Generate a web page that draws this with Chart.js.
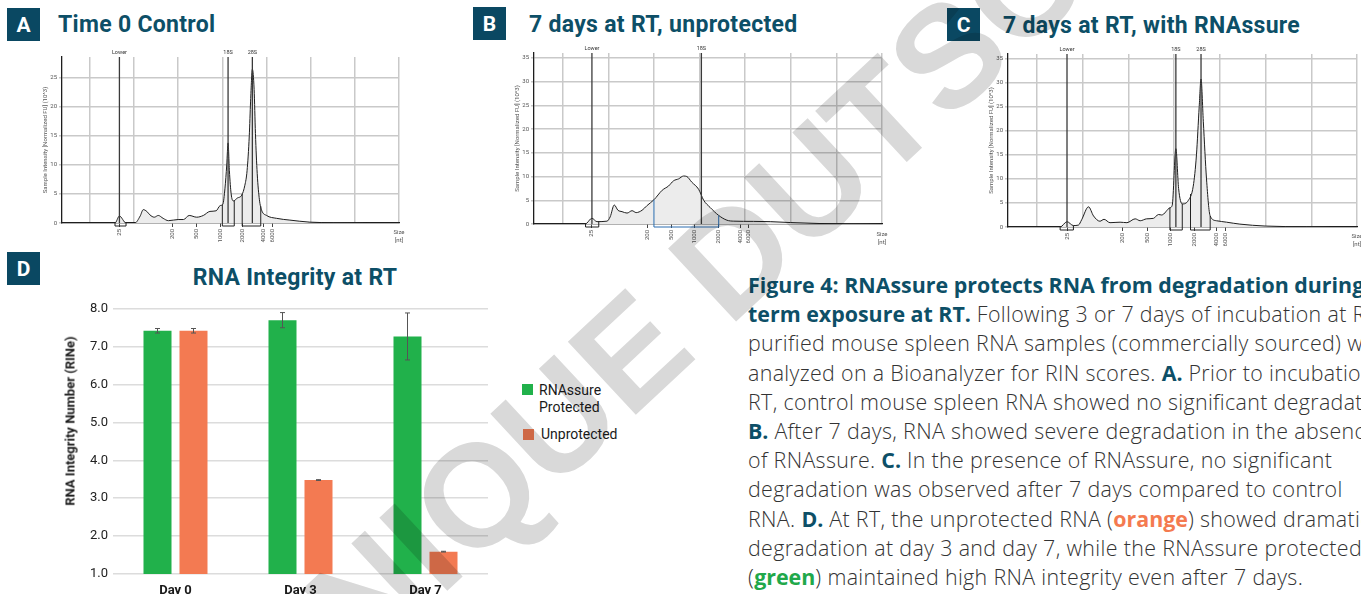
<!DOCTYPE html>
<html>
<head>
<meta charset="utf-8">
<script src="https://cdn.jsdelivr.net/npm/chart.js@4.4.1/dist/chart.umd.min.js"></script>
<style>
html, body { margin: 0; padding: 0; background: #fff; }
body { width: 1361px; height: 594px; position: relative; overflow: hidden; font-family: Roboto, sans-serif; }
canvas { position: absolute; }
.badge { position: absolute; width: 33px; height: 33px; background: #0a4862; color: #fff;
  font: 700 21px Roboto, sans-serif; display: flex; align-items: center; justify-content: center; }
.title { position: absolute; font: 700 23px Roboto, sans-serif; letter-spacing: 0.3px; color: #0d4f67;
  white-space: nowrap; line-height: 1; }
.size { position: absolute; font: 6px Roboto, sans-serif; color: #555; text-align: center; line-height: 7.5px;
  width: 20px; margin-left: -10px; white-space: nowrap; }
.caption { position: absolute; left: 748px; top: 270px; font: 300 21.4px "Open Sans", sans-serif; line-height: 29.2px;
  color: #333; white-space: nowrap; letter-spacing: 0.35px; }
.caption b { color: #0d4f67; font-weight: 700; letter-spacing: 0; }
.legend { position: absolute; font: 14px Roboto, sans-serif; color: #1a1a1a; line-height: 17px; white-space: nowrap; }
.sw { position: absolute; width: 11px; height: 11px; }
.ytitle { position: absolute; font: 700 13px Roboto, sans-serif; color: #1a1a1a; white-space: nowrap;
  transform: translate(-50%, -50%) rotate(-90deg); }
#mark { position: absolute; left: 0; top: 0; width: 1361px; height: 594px; mix-blend-mode: multiply;
  pointer-events: none; z-index: 10; }
</style>
</head>
<body>

<div class="badge" style="left:7px;top:8px">A</div>
<div class="title" style="left:58px;top:13px">Time 0 Control</div>
<div class="badge" style="left:473px;top:7px">B</div>
<div class="title" style="left:529px;top:13px">7 days at RT, unprotected</div>
<div class="badge" style="left:947px;top:8px">C</div>
<div class="title" style="left:1003px;top:14px">7 days at RT, with RNAssure</div>
<div class="badge" style="left:7px;top:252px">D</div>
<div class="title" style="left:295px;top:266px;transform:translateX(-50%)">RNA Integrity at RT</div>

<canvas id="chartA" width="384" height="204" style="left:28px;top:44px"></canvas>
<canvas id="chartB" width="394" height="208" style="left:500px;top:40px"></canvas>
<canvas id="chartC" width="387" height="207" style="left:974px;top:41px"></canvas>
<canvas id="chartD" width="440" height="298" style="left:60px;top:296px"></canvas>

<div class="size" style="left:399px;top:228px">Size<br>[nt]</div>
<div class="size" style="left:882px;top:230px">Size<br>[nt]</div>
<div class="size" style="left:1357px;top:232px">Size<br>[nt]</div>

<div class="ytitle" style="left:70px;top:421px">RNA Integrity Number (RINe)</div>

<div class="sw" style="left:522px;top:384px;background:#21b14b"></div>
<div class="legend" style="left:539px;top:382px">RNAssure<br>Protected</div>
<div class="sw" style="left:523px;top:429px;background:#f37a52"></div>
<div class="legend" style="left:541px;top:426px">Unprotected</div>

<div class="caption">
<b>Figure 4: RNAssure protects RNA from degradation during long-</b><br>
<b>term exposure at RT.</b> Following 3 or 7 days of incubation at RT,<br>
purified mouse spleen RNA samples (commercially sourced) were<br>
analyzed on a Bioanalyzer for RIN scores. <b>A.</b> Prior to incubation at<br>
RT, control mouse spleen RNA showed no significant degradation.<br>
<b>B.</b> After 7 days, RNA showed severe degradation in the absence<br>
of RNAssure. <b>C.</b> In the presence of RNAssure, no significant<br>
degradation was observed after 7 days compared to control<br>
RNA. <b>D.</b> At RT, the unprotected RNA (<b style="color:#f47a50">orange</b>) showed dramatic<br>
degradation at day 3 and day 7, while the RNAssure protected RNA<br>
(<b style="color:#21a84a">green</b>) maintained high RNA integrity even after 7 days.
</div>

<svg id="mark" viewBox="0 0 1361 594">
  <text x="287" y="740" transform="rotate(-43 287 740)" font-family="Liberation Sans, Arial, sans-serif"
        font-weight="700" font-size="145" fill="#d9d9d9">UNIQUE DUTSCHER</text>
</svg>

<script>
Chart.defaults.font.family = 'Roboto, sans-serif';
Chart.defaults.animation = false;

// ---- electropherogram data (migration time in s, intensity in FU x 10^3) ----
const sizeLabels = ['25', '200', '500', '1000', '2000', '4000', '6000'];

const timesA = [13.7, 25.7, 26.7, 28.2, 30.2, 31.4, 32.1, 32.9, 33.6, 34.6, 35.5, 36.6, 37.8, 40.0, 41.2, 42.5,
  44.2, 45.7, 47.2, 48.6, 49.5, 50.1, 50.6, 51.0, 51.3, 51.6, 52.0, 52.5, 53.4, 54.4, 55.1, 55.6, 56.1, 56.4,
  56.8, 57.2, 57.5, 57.9, 58.4, 58.9, 60.0, 62.3, 65.3, 69.8, 75.1, 90];
const valuesA = [0, 0, 1.2, 0, 0, 1.2, 2.3, 2.0, 1.4, 1.0, 1.3, 0.8, 0.4, 0.6, 0.6, 1.3,
  1.0, 1.3, 2.0, 2.1, 3.0, 3.2, 6.0, 10.0, 13.8, 9.0, 5.0, 3.8, 4.3, 4.8, 6.5, 9.0, 15.0, 21.0,
  26.5, 23.0, 15.4, 8.5, 4.0, 2.2, 1.3, 0.8, 0.5, 0.15, 0.05, 0];
const sizeTimesA = [26.7, 38.8, 44.2, 49.5, 54.5, 59.3, 61.4];
const markersA = [['Lower', 26.7], ['18S', 51.3], ['28S', 56.8]];
const windowsA = [[25.7, 28.2, '#222'], [50.0, 52.7, '#222'], [54.5, 58.7, '#222']];

const timesB = [13.7, 25.0, 25.3, 26.4, 27.5, 29.7, 30.4, 31.3, 32.1, 33.0, 34.1, 35.2, 36.1, 37.4, 38.5, 40.0,
  41.8, 43.2, 44.3, 45.4, 46.5, 47.2, 48.3, 49.8, 50.9, 52.3, 54.2, 56.0, 57.5, 61.8, 65.5, 70.0, 76.4, 90];
const valuesB = [0, 0, 0.2, 1.2, 0.5, 0.6, 1.5, 4.0, 2.9, 2.6, 2.3, 2.8, 2.4, 2.9, 3.9, 5.1,
  7.1, 8.0, 9.1, 9.5, 10.1, 10.0, 8.8, 7.3, 5.0, 3.5, 1.8, 0.8, 0.6, 0.55, 0.5, 0.3, 0.1, 0];
const sizeTimesB = [26.4, 38.5, 43.8, 48.9, 54.2, 58.9, 60.8];
const markersB = [['Lower', 26.4], ['18S', 50.4]];
const windowsB = [[25.0, 27.9, '#222'], [40.0, 54.2, '#2a6db0']];

const timesC = [13.7, 25.1, 26.6, 28.0, 29.1, 29.8, 31.3, 32.4, 33.8, 34.7, 36.0, 38.2, 39.7, 41.5, 42.6, 44.0,
  45.5, 46.6, 47.3, 49.1, 49.6, 50.4, 51.0, 51.8, 53.1, 54.2, 54.9, 55.5, 55.9, 56.4, 57.1, 57.9, 59.3, 61.5,
  64.4, 69.9, 79.0, 90];
const valuesC = [0, 0, 1.1, 0.3, 0.4, 1.5, 4.2, 2.3, 1.2, 1.6, 0.9, 1.0, 0.9, 1.7, 1.3, 1.7,
  1.8, 2.6, 2.5, 4.0, 4.5, 16.3, 8.0, 4.8, 5.5, 8.5, 15.0, 25.0, 30.8, 22.0, 10.0, 2.3, 1.3, 1.0,
  0.6, 0.2, 0.05, 0];
const sizeTimesC = [26.6, 38.7, 44.1, 49.3, 54.5, 59.2, 61.3];
const markersC = [['Lower', 26.6], ['18S', 50.4], ['28S', 55.9]];
const windowsC = [[25.1, 28.0, '#222'], [49.1, 51.8, '#222'], [53.6, 57.9, '#222']];

// ---- RIN bar chart data ----
const days = ['Day 0', 'Day 3', 'Day 7'];
const rinProtected = [7.42, 7.70, 7.27];
const rinUnprotected = [7.42, 3.48, 1.59];
const errProtected = [0.06, 0.20, 0.62];
const errUnprotected = [0.06, 0.01, 0.01];

function interp(ts, vs, t) {
    for (let i = 1; i < ts.length; i++) {
        if (t <= ts[i]) {
            const f = (t - ts[i - 1]) / (ts[i] - ts[i - 1]);
            return vs[i - 1] + f * (vs[i] - vs[i - 1]);
        }
    }
    return vs[vs.length - 1];
}

// peak windows + ladder marker lines
const epgMarks = {
    id: 'epgMarks',
    afterDatasetsDraw(chart, args, opts) {
        const ctx = chart.ctx;
        const xs = chart.scales.x, ys = chart.scales.y, area = chart.chartArea;
        const y0 = ys.getPixelForValue(0);
        ctx.save();
        opts.windows.forEach(([from, to, color]) => {
            const xa = xs.getPixelForValue(from), xb = xs.getPixelForValue(to);
            const ya = ys.getPixelForValue(interp(opts.times, opts.values, from));
            const yb = ys.getPixelForValue(interp(opts.times, opts.values, to));
            ctx.strokeStyle = color;
            ctx.lineWidth = 1;
            ctx.beginPath();
            ctx.moveTo(xa, ya);
            ctx.lineTo(xa, y0 + 3);
            ctx.lineTo(xb, y0 + 3);
            ctx.lineTo(xb, yb);
            ctx.stroke();
        });
        opts.markers.forEach(([name, at]) => {
            const x = xs.getPixelForValue(at);
            ctx.strokeStyle = '#3a3a3a';
            ctx.lineWidth = 1.3;
            ctx.beginPath();
            ctx.moveTo(x, area.top);
            ctx.lineTo(x, y0);
            ctx.stroke();
            ctx.fillStyle = '#333';
            ctx.font = '5.5px Roboto, sans-serif';
            ctx.textAlign = 'center';
            ctx.fillText(name, x, area.top - 3);
        });
        ctx.restore();
    }
};

function makeEpg(id, times, values, sizeTimes, markers, windows, yMax, geo) {
    return new Chart(document.getElementById(id), {
        type: 'line',
        data: {
            datasets: [{
                data: times.map((t, i) => ({ x: t, y: values[i] })),
                borderColor: '#1e1e1e',
                borderWidth: 1,
                backgroundColor: '#ececec',
                fill: 'origin',
                pointRadius: 0,
                cubicInterpolationMode: 'monotone'
            }]
        },
        options: {
            responsive: false,
            layout: { padding: { top: geo.top, right: geo.right, left: 0, bottom: 0 } },
            plugins: {
                legend: { display: false },
                tooltip: { enabled: false },
                epgMarks: { times: times, values: values, markers: markers, windows: windows }
            },
            scales: {
                x: {
                    type: 'linear', min: 13.7, max: 90, weight: 1,
                    ticks: { display: false, stepSize: 10, includeBounds: false },
                    grid: { color: '#c9c9c9', lineWidth: 1.5, drawTicks: false },
                    border: { display: false },
                    afterFit: (s) => { s.height = 0; }
                },
                sz: {
                    type: 'linear', position: 'bottom', min: 13.7, max: 90, weight: 0,
                    afterBuildTicks: (s) => { s.ticks = sizeTimes.map(v => ({ value: v })); },
                    ticks: {
                        autoSkip: false, minRotation: 90, maxRotation: 90, padding: 2,
                        font: { size: 6 }, color: '#555',
                        callback: (v, i) => sizeLabels[i]
                    },
                    grid: { drawOnChartArea: false, drawTicks: true, tickLength: 4, color: '#444', lineWidth: 1 },
                    border: { display: true, color: '#1e1e1e', width: 1.3 },
                    afterFit: (s) => { s.height = geo.bottom; }
                },
                y: {
                    type: 'linear', min: 0, max: yMax,
                    ticks: { stepSize: 5, includeBounds: false, padding: 2, font: { size: 6 }, color: '#555' },
                    grid: { color: '#c9c9c9', lineWidth: 1.5, tickLength: 3 },
                    border: { display: true, color: '#1e1e1e', width: 1.3 },
                    title: {
                        display: true, text: 'Sample Intensity [Normalized FU] (10^3)',
                        font: { size: 6 }, color: '#555', padding: { top: 14, bottom: 0 }
                    },
                    afterFit: (s) => { s.width = 34; }
                }
            }
        },
        plugins: [epgMarks]
    });
}

makeEpg('chartA', timesA, valuesA, sizeTimesA, markersA, windowsA, 28.6, { top: 13, right: 13, bottom: 25 });
makeEpg('chartB', timesB, valuesB, sizeTimesB, markersB, windowsB, 36, { top: 13, right: 12, bottom: 24 });
makeEpg('chartC', timesC, valuesC, sizeTimesC, markersC, windowsC, 36, { top: 13, right: 4, bottom: 21 });

// error bars for the RIN chart
const errorBars = {
    id: 'errorBars',
    afterDatasetsDraw(chart) {
        const ctx = chart.ctx, ys = chart.scales.y;
        const errs = [errProtected, errUnprotected];
        ctx.save();
        ctx.strokeStyle = '#555';
        ctx.lineWidth = 1;
        chart.data.datasets.forEach((ds, di) => {
            chart.getDatasetMeta(di).data.forEach((bar, i) => {
                const v = ds.data[i], e = errs[di][i];
                const top = ys.getPixelForValue(v + e), bot = ys.getPixelForValue(v - e);
                ctx.beginPath();
                ctx.moveTo(bar.x, top); ctx.lineTo(bar.x, bot);
                ctx.moveTo(bar.x - 2.5, top); ctx.lineTo(bar.x + 2.5, top);
                ctx.moveTo(bar.x - 2.5, bot); ctx.lineTo(bar.x + 2.5, bot);
                ctx.stroke();
            });
        });
        ctx.restore();
    }
};

new Chart(document.getElementById('chartD'), {
    type: 'bar',
    data: {
        labels: days,
        datasets: [
            { label: 'RNAssure Protected', data: rinProtected, backgroundColor: '#21b14b' },
            { label: 'Unprotected', data: rinUnprotected, backgroundColor: '#f37a52' }
        ]
    },
    options: {
        responsive: false,
        barPercentage: 0.778,
        categoryPercentage: 0.576,
        layout: { padding: { top: 10, right: 12, left: 0, bottom: 0 } },
        plugins: { legend: { display: false }, tooltip: { enabled: false } },
        scales: {
            x: {
                grid: { display: false },
                border: { display: false },
                ticks: { padding: 1, color: '#1a1a1a', font: { size: 13, weight: 'bold' } },
                afterFit: (s) => { s.height = 20; }
            },
            y: {
                min: 1, max: 8,
                ticks: { stepSize: 1, padding: 5, color: '#222', font: { size: 13 }, callback: (v) => v.toFixed(1) },
                grid: { color: '#dcdcdc', lineWidth: 1.5, drawTicks: false },
                border: { display: false },
                afterFit: (s) => { s.width = 53; }
            }
        }
    },
    plugins: [errorBars]
});
</script>
</body>
</html>
